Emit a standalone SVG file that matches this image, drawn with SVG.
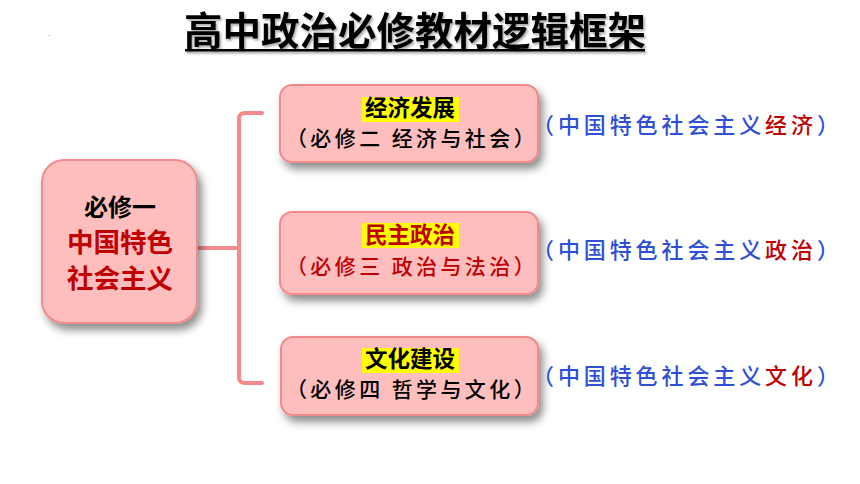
<svg xmlns="http://www.w3.org/2000/svg" width="860" height="484" viewBox="0 0 860 484">
<defs>
<filter id="sh" x="-20%" y="-20%" width="150%" height="160%">
<feDropShadow dx="4" dy="6" stdDeviation="4" flood-color="#000" flood-opacity="0.45"/>
</filter>
<filter id="tsh" x="-5%" y="-20%" width="110%" height="150%">
<feDropShadow dx="1.5" dy="2" stdDeviation="1" flood-color="#000" flood-opacity="0.35"/>
</filter>
</defs>
<style>
text{font-family:"Noto Sans CJK SC","Noto Sans CJK JP",sans-serif;}
.box{fill:#FFBEBE;stroke:#F28A8C;stroke-width:2;}
.ttl{font-size:22.5px;font-weight:bold;text-anchor:middle;}
.sub{font-size:21px;font-weight:500;text-anchor:middle;letter-spacing:3.4px;}
.rt{font-size:22px;font-weight:500;letter-spacing:3.9px;fill:#2E4FD6;}
.red{fill:#C00000;}
.hl{fill:#FFFF00;}
.con{fill:none;stroke:#F58A8C;stroke-width:4;stroke-linecap:round;stroke-linejoin:round;}
</style>
<rect width="860" height="484" fill="#fff"/>
<text x="48" y="36" font-size="6" fill="#333">.</text>
<g id="title" filter="url(#tsh)">
<text x="415" y="45" font-size="38.5" font-weight="bold" text-anchor="middle" fill="#000">高中政治必修教材逻辑框架</text>
<rect x="185" y="49" width="460" height="2.5" fill="#000"/>
</g>
<g id="connectors">
<path class="con" d="M262,113 H245 Q239,113 239,119 V377 Q239,383 245,383 H262"/>
<path class="con" d="M197,248 H239"/>
</g>
<g id="root">
<rect class="box" x="42" y="160" width="155" height="163" rx="22" filter="url(#sh)"/>
<text x="120" y="216" font-size="24" font-weight="bold" text-anchor="middle" fill="#000">必修一</text>
<text x="120" y="252" font-size="26.5" font-weight="bold" text-anchor="middle" class="red">中国特色</text>
<text x="120" y="288" font-size="26.5" font-weight="bold" text-anchor="middle" class="red">社会主义</text>
</g>
<g id="economy">
<rect class="box" x="280" y="85" width="258" height="77" rx="12" filter="url(#sh)"/>
<rect class="hl" x="362" y="97" width="97" height="25"/>
<text class="ttl" x="410" y="116" fill="#000">经济发展</text>
<text class="sub" x="412" y="145.5" fill="#000">（必修二 经济与社会）</text>
</g>
<g id="politics">
<rect class="box" x="280" y="212" width="258" height="82" rx="12" filter="url(#sh)"/>
<rect class="hl" x="362" y="223" width="97" height="25"/>
<text class="ttl red" x="410" y="243">民主政治</text>
<text class="sub red" x="412" y="274">（必修三 政治与法治）</text>
</g>
<g id="culture">
<rect class="box" x="281" y="337" width="257" height="78" rx="12" filter="url(#sh)"/>
<rect class="hl" x="362" y="348" width="97" height="25"/>
<text class="ttl" x="410" y="367" fill="#000">文化建设</text>
<text class="sub" x="412" y="396.5" fill="#000">（必修四 哲学与文化）</text>
</g>
<g id="notes">
<text class="rt" x="532" y="133">（中国特色社会主义<tspan class="red">经济</tspan>）</text>
<text class="rt" x="532" y="258">（中国特色社会主义<tspan class="red">政治</tspan>）</text>
<text class="rt" x="532" y="384">（中国特色社会主义<tspan class="red">文化</tspan>）</text>
</g>
</svg>
